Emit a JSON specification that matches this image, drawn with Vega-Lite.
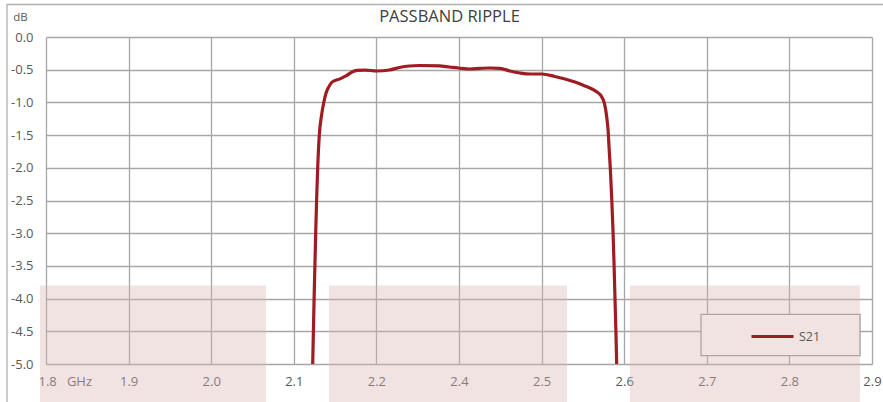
{
  "$schema": "https://vega.github.io/schema/vega-lite/v6.json",
  "width": 826,
  "height": 327,
  "autosize": {"type": "none"},
  "padding": {"left": 46, "top": 37, "right": 11, "bottom": 38},
  "background": "white",
  "config": {
    "view": {"stroke": null},
    "font": "Open Sans"
  },
  "title": {
    "text": "PASSBAND RIPPLE",
    "font": "Open Sans",
    "fontSize": 16.5,
    "fontWeight": "normal",
    "color": "#404040",
    "anchor": "middle",
    "frame": "group",
    "dx": -9.5,
    "dy": 26
  },
  "datasets": {
    "curve": [
      {"f": 2.12288, "db": -5.0, "s": "S21"},
      {"f": 2.12373, "db": -4.5, "s": "S21"},
      {"f": 2.12458, "db": -4.0, "s": "S21"},
      {"f": 2.12554, "db": -3.5, "s": "S21"},
      {"f": 2.12651, "db": -3.0, "s": "S21"},
      {"f": 2.1276, "db": -2.5, "s": "S21"},
      {"f": 2.12893, "db": -2.0, "s": "S21"},
      {"f": 2.13087, "db": -1.5, "s": "S21"},
      {"f": 2.13354, "db": -1.2, "s": "S21"},
      {"f": 2.13632, "db": -1.0, "s": "S21"},
      {"f": 2.13898, "db": -0.86, "s": "S21"},
      {"f": 2.14201, "db": -0.77, "s": "S21"},
      {"f": 2.14625, "db": -0.69, "s": "S21"},
      {"f": 2.1559, "db": -0.64, "s": "S21"},
      {"f": 2.1632, "db": -0.596, "s": "S21"},
      {"f": 2.1705, "db": -0.535, "s": "S21"},
      {"f": 2.1765, "db": -0.51, "s": "S21"},
      {"f": 2.1862, "db": -0.505, "s": "S21"},
      {"f": 2.2007, "db": -0.52, "s": "S21"},
      {"f": 2.2315, "db": -0.505, "s": "S21"},
      {"f": 2.2557, "db": -0.466, "s": "S21"},
      {"f": 2.2799, "db": -0.443, "s": "S21"},
      {"f": 2.3041, "db": -0.436, "s": "S21"},
      {"f": 2.3525, "db": -0.443, "s": "S21"},
      {"f": 2.3767, "db": -0.459, "s": "S21"},
      {"f": 2.3985, "db": -0.474, "s": "S21"},
      {"f": 2.4133, "db": -0.489, "s": "S21"},
      {"f": 2.4254, "db": -0.48, "s": "S21"},
      {"f": 2.4375, "db": -0.474, "s": "S21"},
      {"f": 2.4496, "db": -0.48, "s": "S21"},
      {"f": 2.4617, "db": -0.52, "s": "S21"},
      {"f": 2.4738, "db": -0.55, "s": "S21"},
      {"f": 2.486, "db": -0.566, "s": "S21"},
      {"f": 2.5005, "db": -0.566, "s": "S21"},
      {"f": 2.5162, "db": -0.604, "s": "S21"},
      {"f": 2.5283, "db": -0.642, "s": "S21"},
      {"f": 2.5404, "db": -0.688, "s": "S21"},
      {"f": 2.5525, "db": -0.749, "s": "S21"},
      {"f": 2.56102, "db": -0.795, "s": "S21"},
      {"f": 2.56707, "db": -0.84, "s": "S21"},
      {"f": 2.57252, "db": -0.91, "s": "S21"},
      {"f": 2.57615, "db": -1.02, "s": "S21"},
      {"f": 2.57881, "db": -1.22, "s": "S21"},
      {"f": 2.58075, "db": -1.47, "s": "S21"},
      {"f": 2.58184, "db": -1.73, "s": "S21"},
      {"f": 2.58317, "db": -2.0, "s": "S21"},
      {"f": 2.58499, "db": -2.5, "s": "S21"},
      {"f": 2.58656, "db": -3.0, "s": "S21"},
      {"f": 2.58777, "db": -3.5, "s": "S21"},
      {"f": 2.58886, "db": -4.0, "s": "S21"},
      {"f": 2.58995, "db": -4.5, "s": "S21"},
      {"f": 2.59092, "db": -5.0, "s": "S21"}
    ],
    "bands": [
      {"f": 1.7927, "f2": 2.0663, "db": -3.8, "db2": -5.8},
      {"f": 2.1426, "f2": 2.5308, "db": -3.8, "db2": -5.8},
      {"f": 2.607, "f2": 2.8855, "db": -3.8, "db2": -5.8}
    ],
    "legendbox": [
      {"f": 2.693, "f2": 2.8855, "db": -4.24, "db2": -4.873}
    ],
    "frame": [
      {"f": 1.7528, "f2": 3.0, "db": 0.497, "db2": -6.0}
    ]
  },
  "encoding": {
    "x": {
      "field": "f",
      "type": "quantitative",
      "scale": {"domain": [1.8, 2.2, 2.4, 2.9], "range": [0, 330.4, 413, 826], "nice": false, "zero": false},
      "axis": {
        "title": null,
        "values": [1.8, 1.9, 2.0, 2.1, 2.2, 2.4, 2.5, 2.6, 2.7, 2.8, 2.9],
        "labelExpr": "datum.value === 1.8 ? '1.8\u00a0\u00a0\u00a0GHz' : format(datum.value, '.1f')",
        "labelAlign": {"condition": {"test": "datum.value === 1.8", "value": "left"}, "value": "center"},
        "labelOffset": {"condition": {"test": "datum.value === 1.8", "value": -8}, "value": 0},
        "labelFlush": false,
        "labelOverlap": false,
        "labelFont": "Open Sans",
        "labelFontSize": 13,
        "labelColor": "#595959",
        "labelPadding": 11,
        "ticks": false,
        "domain": false,
        "grid": true,
        "gridColor": "#a6a6a6",
        "gridWidth": 1.3
      }
    },
    "y": {
      "field": "db",
      "type": "quantitative",
      "scale": {"domain": [-5, 0], "nice": false, "zero": false},
      "axis": {
        "title": "dB",
        "titleAngle": 0,
        "titleX": -26,
        "titleY": -20,
        "titleAlign": "center",
        "titleBaseline": "middle",
        "titleFont": "Open Sans",
        "titleFontSize": 11.5,
        "titleFontWeight": "normal",
        "titleColor": "#595959",
        "values": [-5, -4.5, -4, -3.5, -3, -2.5, -2, -1.5, -1, -0.5, 0],
        "labelExpr": "(datum.value < 0 ? '-' : '') + format(abs(datum.value), '.1f')",
        "labelFlush": false,
        "labelOverlap": false,
        "labelFont": "Open Sans",
        "labelFontSize": 13,
        "labelColor": "#595959",
        "labelPadding": 13,
        "ticks": false,
        "domain": false,
        "grid": true,
        "gridColor": "#a6a6a6",
        "gridWidth": 1.3
      }
    }
  },
  "layer": [
    {
      "data": {"name": "frame"},
      "mark": {"type": "rect", "fill": null, "stroke": "#b0b0b0", "strokeWidth": 1.3, "clip": false},
      "encoding": {"x2": {"field": "f2"}, "y2": {"field": "db2"}}
    },
    {
      "data": {"name": "legendbox"},
      "mark": {"type": "rect", "fill": "white", "stroke": "#9a9a9a", "strokeWidth": 1.3, "clip": false},
      "encoding": {"x2": {"field": "f2"}, "y2": {"field": "db2"}}
    },
    {
      "data": {"name": "curve"},
      "mark": {"type": "line", "strokeWidth": 3.2, "interpolate": "monotone", "clip": true},
      "encoding": {
        "color": {
          "field": "s",
          "type": "nominal",
          "scale": {"domain": ["S21"], "range": ["#9e1c23"]},
          "legend": {
            "orient": "none",
            "legendX": 704,
            "legendY": 277,
            "title": null,
            "symbolType": "stroke",
            "symbolSize": 1764,
            "symbolStrokeWidth": 3,
            "labelOffset": 4,
            "labelFont": "Open Sans",
            "labelFontSize": 12.5,
            "labelColor": "#595959",
            "padding": 0
          }
        }
      }
    },
    {
      "data": {"name": "bands"},
      "mark": {"type": "rect", "fill": "#dcb4b4", "opacity": 0.37, "clip": false},
      "encoding": {"x2": {"field": "f2"}, "y2": {"field": "db2"}}
    }
  ]
}
